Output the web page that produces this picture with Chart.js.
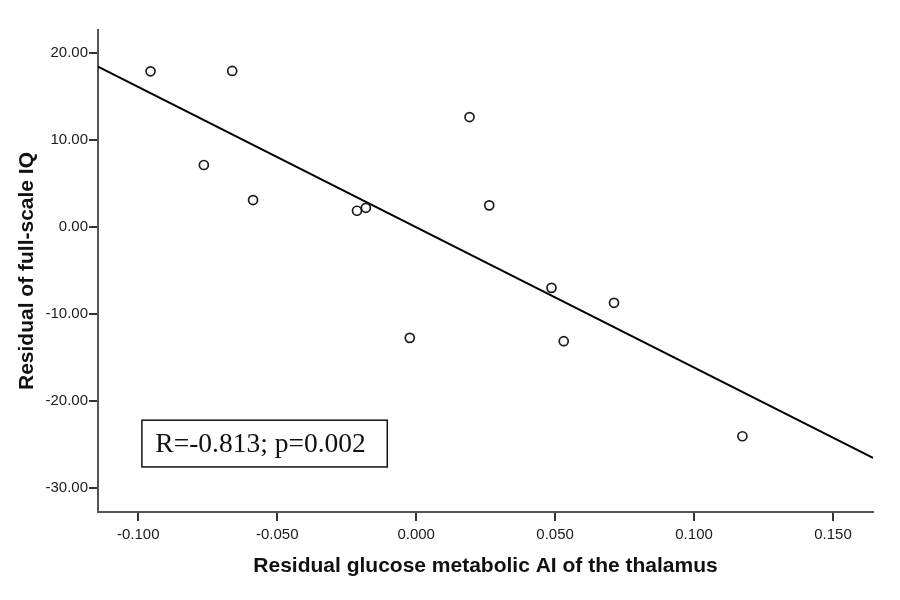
<!DOCTYPE html>
<html>
<head>
<meta charset="utf-8">
<script src="https://cdn.jsdelivr.net/npm/chart.js@4.4.0/dist/chart.umd.min.js"></script>
<style>
  html, body { margin: 0; padding: 0; background: #ffffff; }
  #wrap { width: 900px; height: 600px; }
</style>
</head>
<body>
<div id="wrap"><canvas id="c" width="900" height="600"></canvas></div>
<script>
// ---- data ----
const pointX = [-0.0956, -0.0662, -0.0764, -0.0587, -0.0213, -0.0181, 0.0192, 0.0263, -0.0023, 0.0487, 0.0712, 0.0531, 0.1174];
const pointY = [17.92, 17.96, 7.14, 3.11, 1.88, 2.22, 12.66, 2.50, -12.74, -6.99, -8.71, -13.12, -24.06];
const fitX = [-0.1145, 0.1644];
const fitY = [18.45, -26.55];
const xTicks = [-0.100, -0.050, 0.000, 0.050, 0.100, 0.150];
const yTicks = [-30, -20, -10, 0, 10, 20];
const xRange = [-0.1145, 0.1644];
const yRange = [-32.77, 22.67];
const xTitle = 'Residual glucose metabolic AI of the thalamus';
const yTitle = 'Residual of full-scale IQ';
const statText = 'R=-0.813; p=0.002';
const statBox = { x0: -0.0987, x1: -0.0104, y0: -22.21, y1: -27.59 };

const scatterData = pointX.map((x, i) => ({ x: x, y: pointY[i] }));
const fitData = fitX.map((x, i) => ({ x: x, y: fitY[i] }));

const statPlugin = {
  id: 'statBox',
  afterDatasetsDraw(chart) {
    const { ctx, scales: { x, y } } = chart;
    const l = x.getPixelForValue(statBox.x0);
    const r = x.getPixelForValue(statBox.x1);
    const t = y.getPixelForValue(statBox.y0);
    const b = y.getPixelForValue(statBox.y1);
    ctx.save();
    ctx.fillStyle = '#ffffff';
    ctx.fillRect(l, t, r - l, b - t);
    ctx.strokeStyle = '#111111';
    ctx.lineWidth = 1.5;
    ctx.strokeRect(l, t, r - l, b - t);
    ctx.fillStyle = '#111111';
    ctx.font = '27.5px "Liberation Serif", "Times New Roman", serif';
    ctx.textAlign = 'center';
    ctx.textBaseline = 'middle';
    ctx.fillText(statText, (l + r) / 2 - 4, (t + b) / 2 + 1);
    ctx.restore();
  }
};

new Chart(document.getElementById('c'), {
  type: 'scatter',
  data: {
    datasets: [
      {
        type: 'line',
        data: fitData,
        borderColor: '#000000',
        borderWidth: 2,
        pointRadius: 0,
        fill: false,
        tension: 0,
        order: 2
      },
      {
        data: scatterData,
        pointRadius: 4.5,
        pointBorderWidth: 1.7,
        pointBorderColor: '#1a1a1a',
        pointBackgroundColor: '#ffffff',
        order: 1
      }
    ]
  },
  plugins: [statPlugin],
  options: {
    responsive: false,
    animation: false,
    devicePixelRatio: 1,
    layout: { padding: { left: 0, top: 30, right: 27, bottom: 0 } },
    plugins: { legend: { display: false }, tooltip: { enabled: false } },
    scales: {
      x: {
        type: 'linear',
        min: xRange[0],
        max: xRange[1],
        afterBuildTicks: (s) => { s.ticks = xTicks.map(v => ({ value: v })); },
        afterFit: (s) => { s.height = 88; },
        border: { display: true, color: '#555555', width: 2 },
        grid: { drawOnChartArea: false, drawTicks: true, tickLength: 9, color: '#333333', lineWidth: 2 },
        ticks: {
          color: '#1a1a1a',
          padding: 5,
          maxRotation: 0,
          font: { family: '"Liberation Sans", Arial, sans-serif', size: 15 },
          callback: (v) => Number(v).toFixed(3)
        },
        title: {
          display: true,
          text: xTitle,
          color: '#111111',
          font: { family: '"Liberation Sans", Arial, sans-serif', size: 21, weight: 'bold' },
          padding: { top: 0, bottom: 21 }
        }
      },
      y: {
        type: 'linear',
        min: yRange[0],
        max: yRange[1],
        afterBuildTicks: (s) => { s.ticks = yTicks.map(v => ({ value: v })); },
        afterFit: (s) => { s.width = 98; },
        border: { display: true, color: '#555555', width: 2 },
        grid: { drawOnChartArea: false, drawTicks: true, tickLength: 9, color: '#333333', lineWidth: 2 },
        ticks: {
          color: '#1a1a1a',
          padding: 1,
          font: { family: '"Liberation Sans", Arial, sans-serif', size: 15 },
          callback: (v) => Number(v).toFixed(2)
        },
        title: {
          display: true,
          text: yTitle,
          color: '#111111',
          font: { family: '"Liberation Sans", Arial, sans-serif', size: 21, weight: 'bold' },
          padding: { top: 15, bottom: 0 }
        }
      }
    }
  }
});
</script>
</body>
</html>
